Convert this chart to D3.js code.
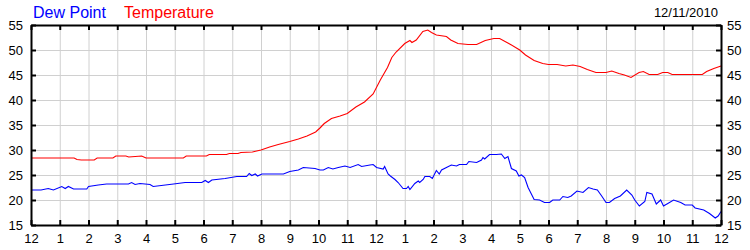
<!DOCTYPE html>
<html>
<head>
<meta charset="utf-8">
<script src="https://cdn.jsdelivr.net/npm/d3@7"></script>
<style>
body { margin: 0; background: #fff; }
svg { display: block; font-family: "Liberation Sans", Arial, sans-serif; }
.grid line { stroke: #d0d0d0; stroke-width: 1; }
.grid path { display: none; }
.ax path { stroke: #000; stroke-width: 2; }
.ax line { stroke: #000; stroke-width: 2; }
.ax text { font-size: 13px; fill: #000; font-family: "Liberation Sans", Arial, sans-serif; }
</style>
</head>
<body>
<svg width="750" height="250"></svg>
<script>
// hours since midnight, and readings in deg F
var tempHours = [0,1.5,1.6,1.75,2.2,2.3,2.85,2.95,3.3,3.4,3.85,4.0,5.3,5.4,6.1,6.2,6.8,6.9,7.2,7.3,7.7,8.0,8.3,8.6,9.0,9.3,9.6,9.9,10.05,10.2,10.45,10.75,11.0,11.3,11.6,11.9,12.15,12.4,12.55,12.7,13.0,13.18,13.25,13.4,13.63,13.8,13.93,14.1,14.45,14.6,14.85,15.2,15.5,15.8,16.1,16.3,16.65,17.0,17.2,17.5,17.8,18.0,18.3,18.6,18.85,19.1,19.35,19.65,20.0,20.2,20.45,20.64,20.87,21.15,21.3,21.5,21.8,21.97,22.15,22.3,23.35,23.5,23.75,24.0];
var tempValues = [28.4,28.4,28.1,28.0,28.0,28.4,28.4,28.8,28.8,28.6,28.8,28.4,28.4,28.8,28.8,29.1,29.1,29.3,29.3,29.5,29.6,30.0,30.6,31.1,31.7,32.2,32.8,33.6,34.4,35.3,36.3,36.8,37.3,38.6,39.6,41.2,44.0,46.5,48.5,49.6,51.3,51.9,51.5,52.0,53.7,54.0,53.5,53.0,52.7,52.0,51.3,51.1,51.1,51.9,52.3,52.3,51.2,50.0,49.0,47.9,47.3,47.1,47.1,46.8,47.0,46.7,46.1,45.5,45.5,45.8,45.3,45.0,44.5,45.5,45.7,45.1,45.1,45.5,45.5,45.1,45.1,45.7,46.3,46.8];

var dewHours = [0,0.35,0.6,0.78,1.07,1.19,1.3,1.48,1.94,2.0,2.34,2.63,3.39,3.5,3.62,3.79,4.14,4.25,4.96,5.36,5.94,6.06,6.17,6.29,6.75,7.16,7.5,7.59,7.68,7.8,7.88,8.03,8.78,9.0,9.3,9.47,9.88,10.05,10.17,10.34,10.5,10.69,10.92,11.1,11.38,11.5,11.79,11.9,12.02,12.25,12.3,12.42,12.5,12.66,12.77,12.94,13.06,13.12,13.18,13.35,13.47,13.52,13.64,13.7,13.87,13.96,14.1,14.2,14.28,14.45,14.62,14.8,14.9,15.15,15.23,15.5,15.67,15.72,15.78,15.95,16.19,16.36,16.48,16.59,16.71,16.88,16.97,17.06,17.17,17.29,17.5,17.69,17.86,18.04,18.15,18.39,18.5,18.67,18.79,18.99,19.2,19.39,19.55,19.7,19.85,20.0,20.12,20.3,20.5,20.72,20.9,21.0,21.16,21.35,21.42,21.6,21.75,21.9,22.0,22.15,22.35,22.6,22.75,23.0,23.1,23.4,23.6,23.8,23.9,24.0];
var dewValues = [22.0,22.0,22.3,22.0,22.7,22.3,22.7,22.2,22.2,22.7,23.0,23.2,23.2,23.5,23.1,23.3,23.1,22.7,23.2,23.5,23.5,23.9,23.5,24.0,24.3,24.7,24.7,25.3,24.9,25.2,24.8,25.2,25.2,25.7,26.0,26.5,26.3,26.0,26.0,26.5,26.2,26.5,26.8,26.5,27.1,26.7,27.0,27.1,26.5,26.2,26.7,25.2,24.8,24.1,23.5,22.3,22.3,22.7,22.1,23.3,23.8,23.5,24.1,24.7,24.7,24.3,25.9,25.2,26.0,26.5,27.0,26.8,27.1,27.1,27.7,27.5,28.0,28.5,28.2,29.1,29.1,29.2,28.3,28.7,26.3,25.8,24.8,25.0,24.5,22.5,20.1,20.0,19.5,19.5,20.0,20.0,20.7,20.5,20.8,21.8,21.5,22.5,22.2,22.0,20.8,19.5,19.5,20.3,20.8,22.0,21.0,20.0,18.8,19.7,21.5,21.2,19.2,20.0,18.8,19.3,20.0,19.5,19.0,19.0,18.4,18.0,17.3,16.4,16.8,17.7];

var hourTicks = d3.range(0, 25);
var hourLabels = ["12","1","2","3","4","5","6","7","8","9","10","11","12","1","2","3","4","5","6","7","8","9","10","11","12"];
var yTicks = [15,20,25,30,35,40,45,50,55];
var seriesNames = ["Dew Point", "Temperature"];
var seriesColors = ["#0000ff", "#ff0000"];
var dateLabel = "12/11/2010";

var plotL = 31, plotR = 721, plotT = 25, plotB = 225;

var svg = d3.select('svg');

var x = d3.scaleLinear().domain([0, 24]).range([plotL, plotR]);
var y = d3.scaleLinear().domain([15, 55]).range([plotB, plotT]);

// grid
svg.append('g').attr('class', 'grid')
  .attr('transform', 'translate(0,' + plotB + ')')
  .call(d3.axisBottom(x).tickValues(hourTicks).tickSize(-(plotB - plotT)).tickFormat(''));
svg.append('g').attr('class', 'grid')
  .attr('transform', 'translate(' + plotL + ',0)')
  .call(d3.axisLeft(y).tickValues(yTicks).tickSize(-(plotR - plotL)).tickFormat(''));

// lines
var dew = dewHours.map((h, i) => [h, dewValues[i]]);
var temp = tempHours.map((h, i) => [h, tempValues[i]]);
var line = d3.line().x(d => x(d[0])).y(d => y(d[1]));

svg.append('path').datum(dew)
  .attr('d', line).attr('fill', 'none')
  .attr('stroke', seriesColors[0]).attr('stroke-width', 1.1);
svg.append('path').datum(temp)
  .attr('d', line).attr('fill', 'none')
  .attr('stroke', seriesColors[1]).attr('stroke-width', 1.1);

// frame + ticks
svg.append('g').attr('class', 'ax')
  .attr('transform', 'translate(0,' + plotB + ')')
  .call(d3.axisBottom(x).tickValues(hourTicks).tickSizeInner(-5).tickSizeOuter(0).tickPadding(9)
    .tickFormat((d, i) => hourLabels[i]));
svg.append('g').attr('class', 'ax')
  .attr('transform', 'translate(0,' + plotT + ')')
  .call(d3.axisTop(x).tickValues(hourTicks).tickSizeInner(-5).tickSizeOuter(0).tickFormat(''));
svg.append('g').attr('class', 'ax')
  .attr('transform', 'translate(' + plotL + ',0)')
  .call(d3.axisLeft(y).tickValues(yTicks).tickSizeInner(-5).tickSizeOuter(0).tickPadding(8));
svg.append('g').attr('class', 'ax')
  .attr('transform', 'translate(' + plotR + ',0)')
  .call(d3.axisRight(y).tickValues(yTicks).tickSizeInner(-5).tickSizeOuter(0).tickPadding(6));

// legend and date
svg.append('text').attr('x', 33).attr('y', 17.5)
  .attr('font-size', 16).attr('fill', seriesColors[0]).text(seriesNames[0]);
svg.append('text').attr('x', 124).attr('y', 17.5)
  .attr('font-size', 16).attr('fill', seriesColors[1]).text(seriesNames[1]);
svg.append('text').attr('x', 718).attr('y', 16.5)
  .attr('font-size', 13).attr('text-anchor', 'end').attr('fill', '#000').text(dateLabel);
</script>
</body>
</html>
